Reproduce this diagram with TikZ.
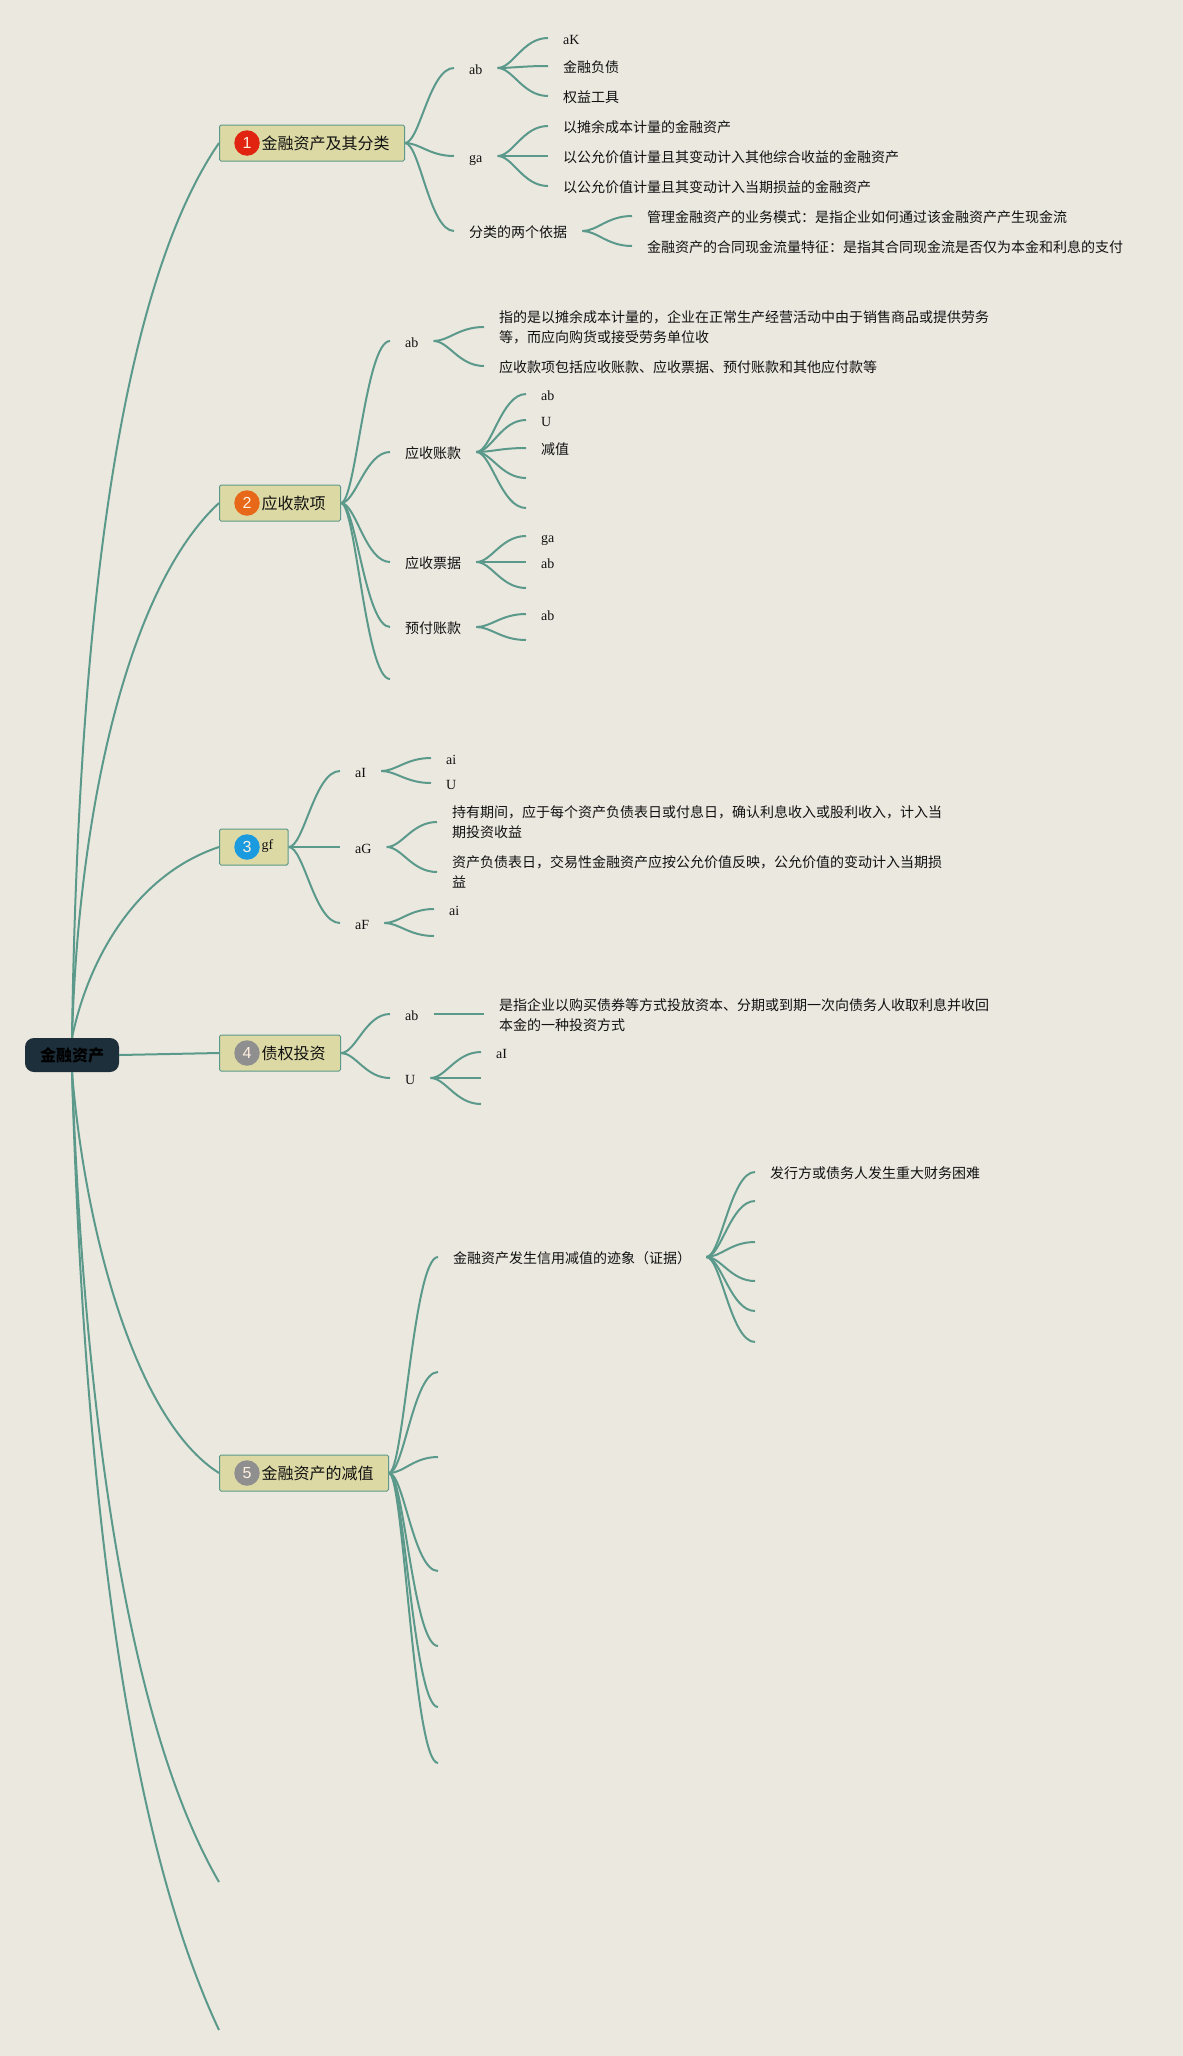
\documentclass[tikz,border=0pt]{standalone}
\usepackage{fontspec}
\setmainfont{Liberation Serif}
\newfontfamily\cjk{Noto Sans CJK SC}
\newfontfamily\badgefont{Liberation Sans}
\usepackage{xcolor}
\usetikzlibrary{calc}
\definecolor{paper}{HTML}{EBE8E0}
\definecolor{linegreen}{HTML}{5B9A8B}
\definecolor{topicfill}{HTML}{DCD9A4}
\definecolor{rootfill}{HTML}{1C2F3A}
\definecolor{inkblack}{HTML}{111111}
\definecolor{badgered}{HTML}{E0240F}
\definecolor{badgeorange}{HTML}{E8681A}
\definecolor{badgeblue}{HTML}{1A9BE0}
\definecolor{badgegray}{HTML}{8F8F8F}
\tikzset{
  branchline/.style={draw=linegreen, line width=2pt},
  rootbox/.style={rectangle, rounded corners=9pt, fill=rootfill, minimum width=94pt, minimum height=34pt, inner sep=0pt, text=black, font=\fontsize{16}{20}\selectfont\cjk\bfseries},
  topicbox/.style={rectangle, anchor=west, rounded corners=1.5pt, draw=linegreen, line width=1pt, fill=topicfill, minimum height=36pt, inner xsep=15pt, inner ysep=0pt, text=inkblack, text height=13.5pt, text depth=1pt, font=\fontsize{16}{20}\selectfont\cjk},
  badge/.style={circle, minimum size=25.5pt, inner sep=0pt, text=white!88!orange, font=\fontsize{16}{20}\selectfont\badgefont},
  latinleaf/.style={anchor=west, inner xsep=15pt, inner ysep=0pt, text=inkblack, text height=13.5pt, text depth=1pt, font=\fontsize{14}{20}\selectfont},
  cjkleaf/.style={latinleaf, font=\fontsize{14}{20}\selectfont\cjk},
  wrapleaf/.style={anchor=west, align=left, inner xsep=15pt, inner ysep=0pt, text=inkblack, font=\fontsize{14}{20}\selectfont\cjk}
}
\newcommand{\branch}[2]{\draw[branchline] (#1) .. controls ($(#1)!.3!(#1 -| #2)$) and ($(#2)!.5!(#2 -| #1)$) .. (#2);}
\begin{document}
\begin{tikzpicture}[x=1pt, y=-1pt]
      \fill[paper, use as bounding box] (0,0) rectangle (1183,2056);

      \node[rootbox] (root) at (72,1055) {金融资产};

      \node[topicbox] (t1) at (219,143) {\hspace*{27pt}金融资产及其分类};
      \node[topicbox] (t2) at (219,503) {\hspace*{27pt}应收款项};
      \node[topicbox, font=\fontsize{14}{20}\selectfont\rmfamily] (t3) at (219,847) {\hspace*{27pt}\raisebox{4pt}{gf}};
      \node[topicbox] (t4) at (219,1053) {\hspace*{27pt}债权投资};
      \node[topicbox] (t5) at (219,1473) {\hspace*{27pt}金融资产的减值};
      \coordinate (t6) at (219,1882);
      \coordinate (t7) at (219,2030);

      \node[badge, fill=badgered] (b1) at (247,143) {1};
      \node[badge, fill=badgeorange] (b2) at (247,503) {2};
      \node[badge, fill=badgeblue] (b3) at (247,847) {3};
      \node[badge, fill=badgegray] (b4) at (247,1053) {4};
      \node[badge, fill=badgegray] (b5) at (247,1473) {5};

      \node[latinleaf] (t1a) at (454,68) {ab};
      \node[latinleaf] (t1b) at (454,156) {ga};
      \node[cjkleaf] (t1c) at (454,231) {分类的两个依据};
      \node[latinleaf] (t1a1) at (548,38) {aK};
      \node[cjkleaf] (t1a2) at (548,66) {金融负债};
      \node[cjkleaf] (t1a3) at (548,96) {权益工具};
      \node[cjkleaf] (t1b1) at (548,126) {以摊余成本计量的金融资产};
      \node[cjkleaf] (t1b2) at (548,156) {以公允价值计量且其变动计入其他综合收益的金融资产};
      \node[cjkleaf] (t1b3) at (548,186) {以公允价值计量且其变动计入当期损益的金融资产};
      \node[cjkleaf] (t1c1) at (632,216) {管理金融资产的业务模式：是指企业如何通过该金融资产产生现金流};
      \node[cjkleaf] (t1c2) at (632,246) {金融资产的合同现金流量特征：是指其合同现金流是否仅为本金和利息的支付};

      \node[latinleaf] (t2a) at (390,341) {ab};
      \node[cjkleaf] (t2b) at (390,452) {应收账款};
      \node[cjkleaf] (t2c) at (390,562) {应收票据};
      \node[cjkleaf] (t2d) at (390,627) {预付账款};
      \coordinate (t2e) at (390,679);
      \node[wrapleaf] (t2a1) at (484,327) {指的是以摊余成本计量的，企业在正常生产经营活动中由于销售商品或提供劳务\\等，而应向购货或接受劳务单位收};
      \node[cjkleaf] (t2a2) at (484,366) {应收款项包括应收账款、应收票据、预付账款和其他应付款等};
      \node[latinleaf] (t2b1) at (526,394) {ab};
      \node[latinleaf] (t2b2) at (526,420) {U};
      \node[cjkleaf] (t2b3) at (526,448) {减值};
      \coordinate (t2b4) at (526,478);
      \coordinate (t2b5) at (526,508);
      \node[latinleaf] (t2c1) at (526,536) {ga};
      \node[latinleaf] (t2c2) at (526,562) {ab};
      \coordinate (t2c3) at (526,588);
      \node[latinleaf] (t2d1) at (526,614) {ab};
      \coordinate (t2d2) at (526,640);

      \node[latinleaf] (t3a) at (340,771) {aI};
      \node[latinleaf] (t3b) at (340,847) {aG};
      \node[latinleaf] (t3c) at (340,923) {aF};
      \node[latinleaf] (t3a1) at (431,758) {ai};
      \node[latinleaf] (t3a2) at (431,783) {U};
      \node[wrapleaf] (t3b1) at (437,822) {持有期间，应于每个资产负债表日或付息日，确认利息收入或股利收入，计入当\\期投资收益};
      \node[wrapleaf] (t3b2) at (437,872) {资产负债表日，交易性金融资产应按公允价值反映，公允价值的变动计入当期损\\益};
      \node[latinleaf] (t3c1) at (434,909) {ai};
      \coordinate (t3c2) at (434,936);

      \node[latinleaf] (t4a) at (390,1014) {ab};
      \node[latinleaf] (t4b) at (390,1078) {U};
      \node[wrapleaf] (t4a1) at (484,1015) {是指企业以购买债券等方式投放资本、分期或到期一次向债务人收取利息并收回\\本金的一种投资方式};
      \node[latinleaf] (t4b1) at (481,1052) {aI};
      \coordinate (t4b2) at (481,1078);
      \coordinate (t4b3) at (481,1104);

      \node[cjkleaf] (t5a) at (438,1257) {金融资产发生信用减值的迹象（证据）};
      \coordinate (t5b) at (438,1372);
      \coordinate (t5c) at (438,1457);
      \coordinate (t5d) at (438,1571);
      \coordinate (t5e) at (438,1646);
      \coordinate (t5f) at (438,1707);
      \coordinate (t5g) at (438,1763);
      \node[cjkleaf] (t5a1) at (755,1172) {发行方或债务人发生重大财务困难};
      \coordinate (t5a2) at (755,1201);
      \coordinate (t5a3) at (755,1242);
      \coordinate (t5a4) at (755,1281);
      \coordinate (t5a5) at (755,1311);
      \coordinate (t5a6) at (755,1342);

      \draw[branchline] (root.north) .. controls (77,700) and (106,307) .. (t1.west);
      \draw[branchline] (root.north) .. controls (78,820) and (125,590) .. (t2.west);
      \draw[branchline] (root.north) .. controls (88,960) and (135,875) .. (t3.west);
      \draw[branchline] (root.east) -- (t4.west);
      \draw[branchline] (root.south) .. controls (85,1230) and (135,1420) .. (t5.west);
      \draw[branchline] (root.south) .. controls (84,1400) and (125,1720) .. (t6);
      \draw[branchline] (root.south) .. controls (84,1480) and (125,1830) .. (t7);

      \foreach \kid in {t1a,t1b,t1c} {\branch{t1.east}{\kid.west}}
      \foreach \kid in {t1a1,t1a2,t1a3} {\branch{t1a.east}{\kid.west}}
      \foreach \kid in {t1b1,t1b2,t1b3} {\branch{t1b.east}{\kid.west}}
      \foreach \kid in {t1c1,t1c2} {\branch{t1c.east}{\kid.west}}

      \foreach \kid in {t2a.west,t2b.west,t2c.west,t2d.west,t2e} {\branch{t2.east}{\kid}}
      \foreach \kid in {t2a1,t2a2} {\branch{t2a.east}{\kid.west}}
      \foreach \kid in {t2b1.west,t2b2.west,t2b3.west,t2b4,t2b5} {\branch{t2b.east}{\kid}}
      \foreach \kid in {t2c1.west,t2c2.west,t2c3} {\branch{t2c.east}{\kid}}
      \foreach \kid in {t2d1.west,t2d2} {\branch{t2d.east}{\kid}}

      \foreach \kid in {t3a,t3b,t3c} {\branch{t3.east}{\kid.west}}
      \foreach \kid in {t3a1,t3a2} {\branch{t3a.east}{\kid.west}}
      \foreach \kid in {t3b1,t3b2} {\branch{t3b.east}{\kid.west}}
      \foreach \kid in {t3c1.west,t3c2} {\branch{t3c.east}{\kid}}

      \foreach \kid in {t4a,t4b} {\branch{t4.east}{\kid.west}}
      \draw[branchline] (t4a.east) -- (t4a1.west |- t4a.east);
      \foreach \kid in {t4b1.west,t4b2,t4b3} {\branch{t4b.east}{\kid}}

      \foreach \kid in {t5a.west,t5b,t5c,t5d,t5e,t5f,t5g} {\branch{t5.east}{\kid}}
      \foreach \kid in {t5a1.west,t5a2,t5a3,t5a4,t5a5,t5a6} {\branch{t5a.east}{\kid}}
    \end{tikzpicture}
\end{document}
